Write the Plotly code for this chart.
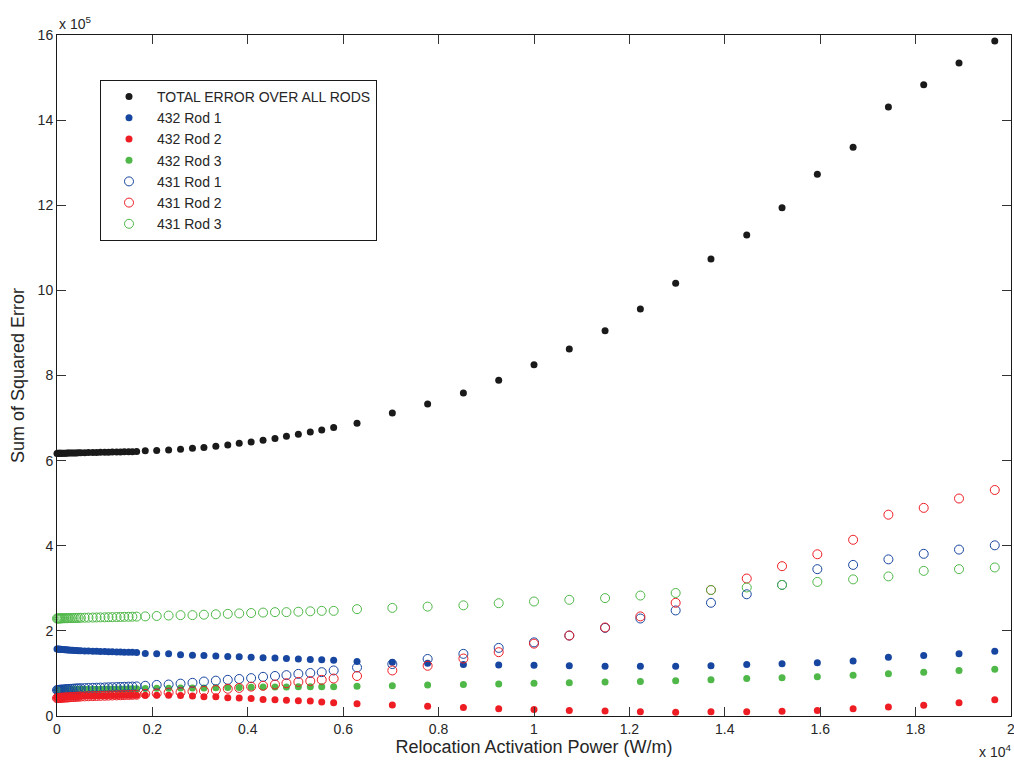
import plotly.graph_objects as go

# ---- data (x in units of 1e4 W/m, y in units of 1e5) ----
power_x1e4 = [
    0.000, 0.002, 0.004, 0.006, 0.008, 0.010, 0.013, 0.016, 0.019, 0.022, 0.025,
    0.029, 0.033, 0.037, 0.041, 0.045, 0.050, 0.058, 0.066, 0.075, 0.083, 0.091,
    0.100, 0.108, 0.116, 0.125, 0.133, 0.141, 0.150, 0.158, 0.167,
    0.185, 0.209, 0.234, 0.259, 0.284, 0.308, 0.333, 0.358, 0.382, 0.407, 0.432,
    0.457, 0.481, 0.506, 0.531, 0.555, 0.580,
    0.629, 0.703, 0.777, 0.852, 0.926, 1.000, 1.074, 1.149, 1.223, 1.297, 1.371,
    1.446, 1.520, 1.594, 1.669, 1.743, 1.817, 1.891, 1.966,
]

total_all_rods = [
    6.170, 6.171, 6.171, 6.172, 6.172, 6.173, 6.174, 6.175, 6.176, 6.177, 6.178,
    6.179, 6.180, 6.181, 6.182, 6.183, 6.185, 6.187, 6.189, 6.191, 6.193, 6.195,
    6.197, 6.199, 6.201, 6.203, 6.205, 6.207, 6.209, 6.211, 6.213,
    6.23, 6.24, 6.25, 6.27, 6.29, 6.31, 6.34, 6.37, 6.41, 6.44, 6.48,
    6.52, 6.57, 6.62, 6.67, 6.72, 6.78,
    6.88, 7.12, 7.33, 7.59, 7.89, 8.25, 8.62, 9.05, 9.56, 10.17, 10.74,
    11.30, 11.94, 12.73, 13.36, 14.31, 14.83, 15.34, 15.86,
]

rod432_1 = [
    1.575, 1.573, 1.571, 1.569, 1.567, 1.565, 1.562, 1.559, 1.556, 1.553, 1.550,
    1.547, 1.544, 1.541, 1.538, 1.535, 1.532, 1.528, 1.525, 1.522, 1.519, 1.516,
    1.513, 1.510, 1.507, 1.504, 1.502, 1.500, 1.498, 1.496, 1.494,
    1.47, 1.46, 1.46, 1.44, 1.43, 1.42, 1.41, 1.40, 1.39, 1.38, 1.37,
    1.36, 1.35, 1.34, 1.33, 1.32, 1.31,
    1.28, 1.26, 1.24, 1.21, 1.20, 1.19, 1.18, 1.17, 1.17, 1.17, 1.18,
    1.21, 1.23, 1.25, 1.29, 1.38, 1.42, 1.46, 1.52,
]

rod432_2 = [
    0.440, 0.441, 0.442, 0.443, 0.444, 0.445, 0.447, 0.448, 0.450, 0.451, 0.453,
    0.455, 0.457, 0.459, 0.461, 0.463, 0.465, 0.467, 0.469, 0.471, 0.473, 0.475,
    0.477, 0.479, 0.481, 0.483, 0.485, 0.486, 0.487, 0.488, 0.489,
    0.49, 0.49, 0.49, 0.48, 0.47, 0.45, 0.45, 0.43, 0.42, 0.41, 0.39,
    0.38, 0.37, 0.36, 0.35, 0.33, 0.31,
    0.29, 0.26, 0.23, 0.20, 0.17, 0.15, 0.13, 0.12, 0.10, 0.09, 0.10,
    0.10, 0.11, 0.13, 0.17, 0.21, 0.25, 0.31, 0.38,
]

rod432_3 = [
    0.610, 0.611, 0.612, 0.613, 0.614, 0.615, 0.616, 0.617, 0.618, 0.619, 0.620,
    0.621, 0.622, 0.623, 0.624, 0.625, 0.626, 0.627, 0.628, 0.629, 0.630, 0.631,
    0.632, 0.633, 0.634, 0.635, 0.636, 0.637, 0.638, 0.639, 0.640,
    0.645, 0.650, 0.650, 0.655, 0.660, 0.660, 0.665, 0.670, 0.670, 0.675, 0.680,
    0.680, 0.680, 0.685, 0.685, 0.690, 0.690,
    0.70, 0.71, 0.73, 0.74, 0.75, 0.77, 0.78, 0.80, 0.81, 0.83, 0.85,
    0.88, 0.90, 0.92, 0.96, 0.99, 1.03, 1.07, 1.10,
]

rod431_1 = [
    0.610, 0.612, 0.614, 0.616, 0.618, 0.620, 0.623, 0.626, 0.629, 0.632, 0.635,
    0.638, 0.641, 0.644, 0.647, 0.650, 0.653, 0.656, 0.659, 0.662, 0.665, 0.668,
    0.671, 0.674, 0.677, 0.680, 0.683, 0.686, 0.689, 0.692, 0.695,
    0.71, 0.73, 0.74, 0.76, 0.78, 0.81, 0.83, 0.85, 0.87, 0.89, 0.92,
    0.94, 0.96, 0.99, 1.01, 1.03, 1.07,
    1.14, 1.22, 1.34, 1.46, 1.60, 1.73, 1.89, 2.07, 2.29, 2.48, 2.66,
    2.86, 3.08, 3.45, 3.55, 3.68, 3.81, 3.91, 4.01,
]

rod431_2 = [
    0.420, 0.422, 0.424, 0.426, 0.428, 0.430, 0.432, 0.434, 0.436, 0.438, 0.440,
    0.443, 0.446, 0.449, 0.452, 0.455, 0.458, 0.461, 0.464, 0.467, 0.470, 0.473,
    0.476, 0.479, 0.482, 0.485, 0.488, 0.491, 0.494, 0.497, 0.500,
    0.52, 0.53, 0.55, 0.56, 0.58, 0.59, 0.61, 0.64, 0.66, 0.69, 0.71,
    0.74, 0.77, 0.80, 0.82, 0.85, 0.88,
    0.94, 1.07, 1.18, 1.35, 1.50, 1.70, 1.89, 2.08, 2.34, 2.66, 2.96,
    3.23, 3.52, 3.80, 4.14, 4.73, 4.89, 5.11, 5.31,
]

rod431_3 = [
    2.290, 2.291, 2.292, 2.293, 2.294, 2.295, 2.296, 2.297, 2.298, 2.299, 2.300,
    2.301, 2.302, 2.303, 2.304, 2.305, 2.307, 2.309, 2.311, 2.313, 2.315, 2.317,
    2.319, 2.321, 2.323, 2.325, 2.327, 2.329, 2.331, 2.333, 2.335,
    2.34, 2.35, 2.36, 2.37, 2.37, 2.38, 2.39, 2.40, 2.41, 2.42, 2.43,
    2.44, 2.44, 2.45, 2.46, 2.47, 2.47,
    2.51, 2.54, 2.57, 2.60, 2.65, 2.69, 2.73, 2.77, 2.83, 2.89, 2.96,
    3.02, 3.08, 3.15, 3.21, 3.28, 3.41, 3.45, 3.49,
]

x_tick_vals = [0, 0.2, 0.4, 0.6, 0.8, 1.0, 1.2, 1.4, 1.6, 1.8, 2.0]
x_tick_text = ["0", "0.2", "0.4", "0.6", "0.8", "1", "1.2", "1.4", "1.6", "1.8", "2"]
y_tick_vals = [0, 2, 4, 6, 8, 10, 12, 14, 16]
y_tick_text = ["0", "2", "4", "6", "8", "10", "12", "14", "16"]

series = [
    ("TOTAL ERROR OVER ALL RODS", total_all_rods, "#1a1a1a", "circle"),
    ("432 Rod 1", rod432_1, "#1746a0", "circle"),
    ("432 Rod 2", rod432_2, "#ee1d24", "circle"),
    ("432 Rod 3", rod432_3, "#4fb848", "circle"),
    ("431 Rod 1", rod431_1, "#1746a0", "circle-open"),
    ("431 Rod 2", rod431_2, "#ee1d24", "circle-open"),
    ("431 Rod 3", rod431_3, "#4fb848", "circle-open"),
]

FONT = "Liberation Sans, Arial, Helvetica, sans-serif"
TXT = "#262626"

fig = go.Figure()
for name, vals, color, sym in series:
    is_open = sym == "circle-open"
    fig.add_trace(go.Scatter(
        x=power_x1e4, y=vals, mode="markers", name=name,
        cliponaxis=False,
        marker=dict(symbol=sym, color=color, size=9 if is_open else 7,
                    line=dict(color=color, width=1 if is_open else 0)),
    ))

axis_common = dict(
    ticks="inside", ticklen=9, tickwidth=1, tickcolor="#333333",
    showline=True, linecolor="#1a1a1a", linewidth=1, mirror="ticks",
    showgrid=False, zeroline=False, automargin=False,
    ticklabeloverflow="allow",
    tickfont=dict(family=FONT, size=14, color=TXT),
)

fig.update_layout(
    width=1014, height=760,
    margin=dict(l=57, r=3, t=35, b=44),
    paper_bgcolor="white", plot_bgcolor="white",
    font=dict(family=FONT, color=TXT),
    xaxis=dict(range=[0, 2], tickvals=x_tick_vals, ticktext=x_tick_text,
               title=dict(text="Relocation Activation Power (W/m)",
                          font=dict(family=FONT, size=18, color=TXT),
                          standoff=2),
               **axis_common),
    yaxis=dict(range=[0, 16], tickvals=y_tick_vals, ticktext=y_tick_text,
               title=dict(text="Sum of Squared Error",
                          font=dict(family=FONT, size=18, color=TXT),
                          standoff=8),
               **axis_common),
    legend=dict(x=(100 - 57) / 954, y=(716 - 80) / 681,
                xanchor="left", yanchor="top",
                bgcolor="white", bordercolor="#1a1a1a", borderwidth=1,
                font=dict(family=FONT, size=14, color=TXT),
                itemwidth=46, tracegroupgap=0),
    showlegend=True,
    annotations=[
        dict(text="x 10<sup>5</sup>", xref="paper", yref="paper", x=0, y=1,
             xanchor="left", yanchor="bottom", showarrow=False, yshift=1,
             font=dict(family=FONT, size=14, color=TXT)),
        dict(text="x 10<sup>4</sup>", xref="paper", yref="paper", x=1.0, y=0,
             xanchor="right", yanchor="top", showarrow=False, yshift=-24,
             xshift=2, font=dict(family=FONT, size=14, color=TXT)),
    ],
)

fig.write_html(
    "out.html",
    config={"displayModeBar": False},
    post_script="document.body.style.margin='0';"
                "document.body.style.overflow='hidden';",
)
